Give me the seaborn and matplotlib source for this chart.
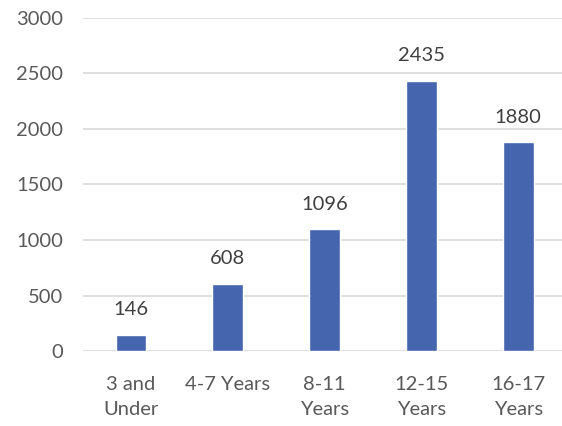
import matplotlib
matplotlib.use("Agg")
import matplotlib.pyplot as plt
import seaborn as sns
import pandas as pd

categories = ["3 and\nUnder", "4-7 Years", "8-11\nYears", "12-15\nYears", "16-17\nYears"]
counts = [146, 608, 1096, 2435, 1880]
y_ticks = [0, 500, 1000, 1500, 2000, 2500, 3000]

sns.set_theme(style="white")
plt.rcParams["font.family"] = ["Lato", "DejaVu Sans"]

df = pd.DataFrame({"group": categories, "count": counts})

fig = plt.figure(figsize=(5.62, 4.26), dpi=100)
ax = fig.add_axes([0.147, 0.176, 0.861, 0.782])

sns.barplot(data=df, x="group", y="count", color="#4565AE", saturation=1,
            width=0.32, ax=ax, zorder=3)

text_color = "#595959"
fs = 14.5
ax.set_ylim(0, 3000)
ax.set_yticks(y_ticks)
ax.set_yticklabels([str(t) for t in y_ticks], fontsize=fs, color=text_color)
ax.set_xticks(range(len(categories)))
ax.set_xticklabels(categories, fontsize=fs, color=text_color, linespacing=1.6)
ax.tick_params(axis="x", length=0, pad=18)
ax.tick_params(axis="y", length=0, pad=14)
ax.set_xlabel("")
ax.set_ylabel("")
ax.yaxis.grid(True, color="#D9D9D9", linewidth=1.2, zorder=0)
for s in ax.spines.values():
    s.set_visible(False)

for container in ax.containers:
    ax.bar_label(container, labels=[str(v) for v in counts], padding=12,
                 fontsize=fs, color="#404040")

fig.savefig("out.png", dpi=100)
